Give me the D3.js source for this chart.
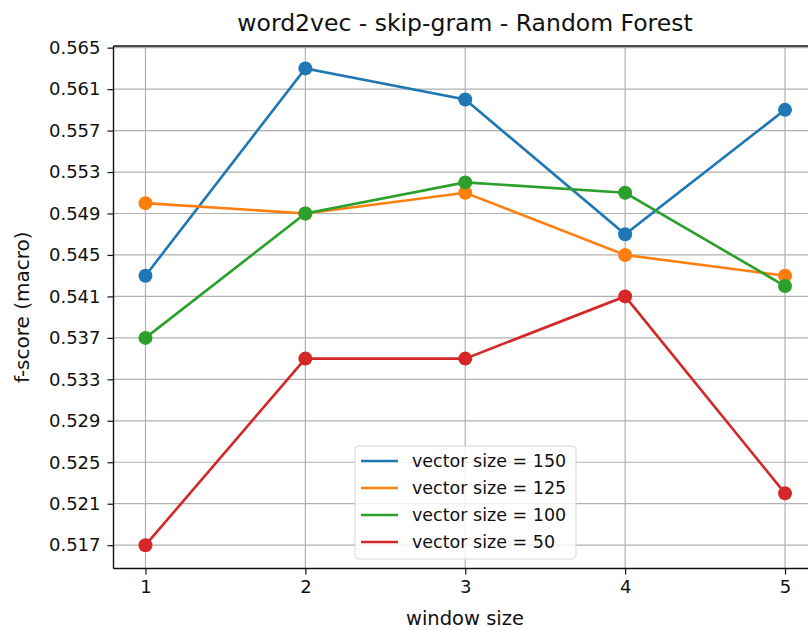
<!DOCTYPE html>
<html>
<head>
<meta charset="utf-8">
<script src="https://cdn.jsdelivr.net/npm/d3@7"></script>
<style>
  body { margin: 0; background: #fff; }
  svg { font-family: "DejaVu Sans", sans-serif; }
</style>
</head>
<body>
<div id="graph"></div>
<script>
// chart data
var windowSizes = [1, 2, 3, 4, 5];
var yTicks = [0.517, 0.521, 0.525, 0.529, 0.533, 0.537, 0.541, 0.545, 0.549, 0.553, 0.557, 0.561, 0.565];
var seriesNames = ['vector size = 150', 'vector size = 125', 'vector size = 100', 'vector size = 50'];
var vec150 = [0.543, 0.563, 0.560, 0.547, 0.559];
var vec125 = [0.550, 0.549, 0.551, 0.545, 0.543];
var vec100 = [0.537, 0.549, 0.552, 0.551, 0.542];
var vec50 = [0.517, 0.535, 0.535, 0.541, 0.522];
var colors = ['#1f77b4', '#ff7f0e', '#2ca02c', '#d62728'];

var width = 808, height = 630;
var plotLeft = 113.5, plotTop = 46, plotBottom = 568.5;

var svg = d3.select('#graph')
  .append('svg')
  .attr('width', width)
  .attr('height', height);

var x = d3.scaleLinear().domain([0.8, 5.2]).range([plotLeft, 817]);
var y = d3.scaleLinear().domain([0.51475, 0.56516]).range([plotBottom, plotTop]);

// grid
svg.append('g')
  .selectAll('line')
  .data(windowSizes)
  .enter()
  .append('line')
  .attr('x1', function (d) { return x(d); })
  .attr('x2', function (d) { return x(d); })
  .attr('y1', plotTop)
  .attr('y2', plotBottom)
  .attr('stroke', '#b0b0b0')
  .attr('stroke-width', 1.2);

svg.append('g')
  .selectAll('line')
  .data(yTicks)
  .enter()
  .append('line')
  .attr('x1', plotLeft)
  .attr('x2', width)
  .attr('y1', function (d) { return y(d); })
  .attr('y2', function (d) { return y(d); })
  .attr('stroke', '#b0b0b0')
  .attr('stroke-width', 1.2);

// axes
var xAxis = d3.axisBottom(x).tickValues(windowSizes).tickFormat(d3.format('d')).tickSize(6).tickPadding(6);
var yAxis = d3.axisLeft(y).tickValues(yTicks).tickFormat(d3.format('.3f')).tickSize(6).tickPadding(7);

svg.append('g')
  .attr('transform', 'translate(0,' + plotBottom + ')')
  .call(xAxis)
  .call(function (g) {
    g.select('.domain').remove();
    g.selectAll('text').attr('font-size', 18).attr('fill', '#111').attr('font-family', 'DejaVu Sans');
    g.selectAll('line').attr('stroke', '#111').attr('stroke-width', 1.2);
  });

svg.append('g')
  .attr('transform', 'translate(' + plotLeft + ',0)')
  .call(yAxis)
  .call(function (g) {
    g.select('.domain').remove();
    g.selectAll('text').attr('font-size', 18).attr('fill', '#111').attr('font-family', 'DejaVu Sans');
    g.selectAll('line').attr('stroke', '#111').attr('stroke-width', 1.2);
  });

// spines
svg.append('line').attr('x1', plotLeft).attr('x2', plotLeft).attr('y1', plotTop).attr('y2', plotBottom)
  .attr('stroke', '#111').attr('stroke-width', 1.4);
svg.append('line').attr('x1', plotLeft).attr('x2', width).attr('y1', plotBottom).attr('y2', plotBottom)
  .attr('stroke', '#111').attr('stroke-width', 1.4);
svg.append('line').attr('x1', plotLeft).attr('x2', width).attr('y1', plotTop).attr('y2', plotTop)
  .attr('stroke', '#111').attr('stroke-width', 1.4);

// series
var allSeries = [vec150, vec125, vec100, vec50];
var line = d3.line()
  .x(function (d, i) { return x(windowSizes[i]); })
  .y(function (d) { return y(d); });

allSeries.forEach(function (values, s) {
  svg.append('path')
    .datum(values)
    .attr('fill', 'none')
    .attr('stroke', colors[s])
    .attr('stroke-width', 2.6)
    .attr('d', line);

  svg.append('g')
    .selectAll('circle')
    .data(values)
    .enter()
    .append('circle')
    .attr('cx', function (d, i) { return x(windowSizes[i]); })
    .attr('cy', function (d) { return y(d); })
    .attr('r', 7)
    .attr('fill', colors[s]);
});

// labels
svg.append('text')
  .attr('x', 465)
  .attr('y', 31)
  .attr('text-anchor', 'middle')
  .attr('font-size', 23.5)
  .attr('fill', '#111')
  .text('word2vec - skip-gram - Random Forest');

svg.append('text')
  .attr('x', 465)
  .attr('y', 625)
  .attr('text-anchor', 'middle')
  .attr('font-size', 19.5)
  .attr('fill', '#111')
  .text('window size');

svg.append('text')
  .attr('transform', 'translate(29,' + ((plotTop + plotBottom) / 2) + ') rotate(-90)')
  .attr('text-anchor', 'middle')
  .attr('font-size', 20)
  .attr('fill', '#111')
  .text('f-score (macro)');

// legend
var legend = svg.append('g').attr('transform', 'translate(355,446)');
legend.append('rect')
  .attr('width', 221)
  .attr('height', 113)
  .attr('rx', 4)
  .attr('fill', '#fff')
  .attr('fill-opacity', 0.8)
  .attr('stroke', '#d6d6d6');

seriesNames.forEach(function (name, i) {
  var row = legend.append('g').attr('transform', 'translate(0,' + (15 + i * 27) + ')');
  row.append('line')
    .attr('x1', 6).attr('x2', 43)
    .attr('stroke', colors[i])
    .attr('stroke-width', 2.6);
  row.append('text')
    .attr('x', 57)
    .attr('y', 6)
    .attr('font-size', 17.5)
    .attr('fill', '#111')
    .text(name);
});
</script>
</body>
</html>
